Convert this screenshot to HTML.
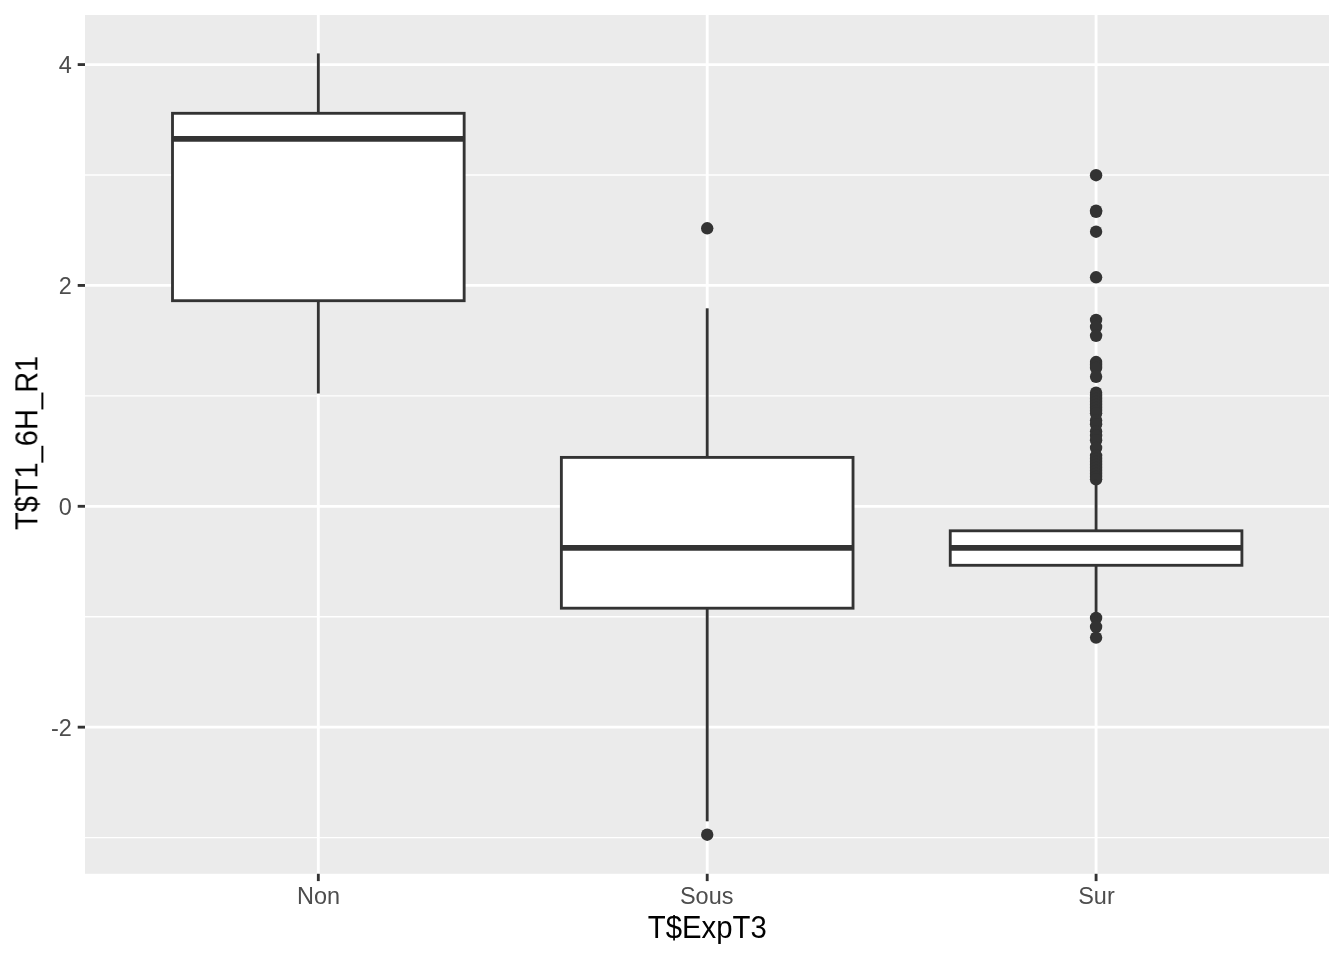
<!DOCTYPE html>
<html><head><meta charset="utf-8"><title>boxplot</title>
<style>
html,body{margin:0;padding:0;background:#fff;}
svg{display:block;font-family:"Liberation Sans",sans-serif;}
.t{opacity:0.999;}
</style></head><body>
<svg width="1344" height="960" viewBox="0 0 1344 960">
<rect width="1344" height="960" fill="#fff"/>
<rect x="85.00" y="15.00" width="1244.00" height="858.80" fill="#EBEBEB"/>
<line x1="85.00" x2="1329.00" y1="175.01" y2="175.01" stroke="#fff" stroke-width="1.42"/>
<line x1="85.00" x2="1329.00" y1="395.87" y2="395.87" stroke="#fff" stroke-width="1.42"/>
<line x1="85.00" x2="1329.00" y1="616.73" y2="616.73" stroke="#fff" stroke-width="1.42"/>
<line x1="85.00" x2="1329.00" y1="837.59" y2="837.59" stroke="#fff" stroke-width="1.42"/>
<line x1="85.00" x2="1329.00" y1="64.58" y2="64.58" stroke="#fff" stroke-width="2.85"/>
<line x1="85.00" x2="1329.00" y1="285.44" y2="285.44" stroke="#fff" stroke-width="2.85"/>
<line x1="85.00" x2="1329.00" y1="506.30" y2="506.30" stroke="#fff" stroke-width="2.85"/>
<line x1="85.00" x2="1329.00" y1="727.16" y2="727.16" stroke="#fff" stroke-width="2.85"/>
<line x1="318.32" x2="318.32" y1="15.00" y2="873.80" stroke="#fff" stroke-width="2.85"/>
<line x1="707.20" x2="707.20" y1="15.00" y2="873.80" stroke="#fff" stroke-width="2.85"/>
<line x1="1096.08" x2="1096.08" y1="15.00" y2="873.80" stroke="#fff" stroke-width="2.85"/>
<circle cx="707.20" cy="228.30" r="6.20" fill="#333333"/>
<circle cx="707.20" cy="834.70" r="6.20" fill="#333333"/>
<circle cx="1096.08" cy="175.20" r="6.20" fill="#333333"/>
<circle cx="1096.08" cy="210.60" r="6.20" fill="#333333"/>
<circle cx="1096.08" cy="211.80" r="6.20" fill="#333333"/>
<circle cx="1096.08" cy="231.70" r="6.20" fill="#333333"/>
<circle cx="1096.08" cy="277.30" r="6.20" fill="#333333"/>
<circle cx="1096.08" cy="319.90" r="6.20" fill="#333333"/>
<circle cx="1096.08" cy="327.00" r="6.20" fill="#333333"/>
<circle cx="1096.08" cy="335.80" r="6.20" fill="#333333"/>
<circle cx="1096.08" cy="362.05" r="6.20" fill="#333333"/>
<circle cx="1096.08" cy="365.00" r="6.20" fill="#333333"/>
<circle cx="1096.08" cy="368.00" r="6.20" fill="#333333"/>
<circle cx="1096.08" cy="376.75" r="6.20" fill="#333333"/>
<circle cx="1096.08" cy="392.75" r="6.20" fill="#333333"/>
<circle cx="1096.08" cy="396.00" r="6.20" fill="#333333"/>
<circle cx="1096.08" cy="399.00" r="6.20" fill="#333333"/>
<circle cx="1096.08" cy="402.00" r="6.20" fill="#333333"/>
<circle cx="1096.08" cy="405.00" r="6.20" fill="#333333"/>
<circle cx="1096.08" cy="408.00" r="6.20" fill="#333333"/>
<circle cx="1096.08" cy="411.00" r="6.20" fill="#333333"/>
<circle cx="1096.08" cy="413.30" r="6.20" fill="#333333"/>
<circle cx="1096.08" cy="420.50" r="6.20" fill="#333333"/>
<circle cx="1096.08" cy="424.20" r="6.20" fill="#333333"/>
<circle cx="1096.08" cy="431.40" r="6.20" fill="#333333"/>
<circle cx="1096.08" cy="435.80" r="6.20" fill="#333333"/>
<circle cx="1096.08" cy="440.15" r="6.20" fill="#333333"/>
<circle cx="1096.08" cy="448.00" r="6.20" fill="#333333"/>
<circle cx="1096.08" cy="455.80" r="6.20" fill="#333333"/>
<circle cx="1096.08" cy="459.00" r="6.20" fill="#333333"/>
<circle cx="1096.08" cy="462.00" r="6.20" fill="#333333"/>
<circle cx="1096.08" cy="465.00" r="6.20" fill="#333333"/>
<circle cx="1096.08" cy="468.00" r="6.20" fill="#333333"/>
<circle cx="1096.08" cy="471.00" r="6.20" fill="#333333"/>
<circle cx="1096.08" cy="474.00" r="6.20" fill="#333333"/>
<circle cx="1096.08" cy="477.00" r="6.20" fill="#333333"/>
<circle cx="1096.08" cy="479.30" r="6.20" fill="#333333"/>
<circle cx="1096.08" cy="618.00" r="6.20" fill="#333333"/>
<circle cx="1096.08" cy="626.90" r="6.20" fill="#333333"/>
<circle cx="1096.08" cy="637.60" r="6.20" fill="#333333"/>
<line x1="318.32" x2="318.32" y1="53.40" y2="113.30" stroke="#333333" stroke-width="2.85"/>
<line x1="318.32" x2="318.32" y1="300.70" y2="393.50" stroke="#333333" stroke-width="2.85"/>
<rect x="172.50" y="113.30" width="291.66" height="187.40" fill="#fff" stroke="#333333" stroke-width="2.85" stroke-linejoin="miter"/>
<line x1="172.50" x2="464.15" y1="138.90" y2="138.90" stroke="#333333" stroke-width="5.7"/>
<line x1="707.20" x2="707.20" y1="308.30" y2="457.40" stroke="#333333" stroke-width="2.85"/>
<line x1="707.20" x2="707.20" y1="608.20" y2="821.30" stroke="#333333" stroke-width="2.85"/>
<rect x="561.37" y="457.40" width="291.66" height="150.80" fill="#fff" stroke="#333333" stroke-width="2.85" stroke-linejoin="miter"/>
<line x1="561.37" x2="853.03" y1="547.90" y2="547.90" stroke="#333333" stroke-width="5.7"/>
<line x1="1096.08" x2="1096.08" y1="479.30" y2="530.80" stroke="#333333" stroke-width="2.85"/>
<line x1="1096.08" x2="1096.08" y1="565.30" y2="618.00" stroke="#333333" stroke-width="2.85"/>
<rect x="950.25" y="530.80" width="291.66" height="34.50" fill="#fff" stroke="#333333" stroke-width="2.85" stroke-linejoin="miter"/>
<line x1="950.25" x2="1241.90" y1="547.90" y2="547.90" stroke="#333333" stroke-width="5.7"/>
<line x1="77.70" x2="85.00" y1="64.58" y2="64.58" stroke="#333333" stroke-width="2.85"/>
<line x1="77.70" x2="85.00" y1="285.44" y2="285.44" stroke="#333333" stroke-width="2.85"/>
<line x1="77.70" x2="85.00" y1="506.30" y2="506.30" stroke="#333333" stroke-width="2.85"/>
<line x1="77.70" x2="85.00" y1="727.16" y2="727.16" stroke="#333333" stroke-width="2.85"/>
<line x1="318.32" x2="318.32" y1="873.80" y2="881.10" stroke="#333333" stroke-width="2.85"/>
<line x1="707.20" x2="707.20" y1="873.80" y2="881.10" stroke="#333333" stroke-width="2.85"/>
<line x1="1096.08" x2="1096.08" y1="873.80" y2="881.10" stroke="#333333" stroke-width="2.85"/>
<g class="t">
<text transform="translate(71.80,73.08) scale(1,1.02)" text-anchor="end" font-size="23.47" fill="#4D4D4D">4</text>
<text transform="translate(71.80,293.94) scale(1,1.02)" text-anchor="end" font-size="23.47" fill="#4D4D4D">2</text>
<text transform="translate(71.80,514.80) scale(1,1.02)" text-anchor="end" font-size="23.47" fill="#4D4D4D">0</text>
<text transform="translate(71.80,735.66) scale(1,1.02)" text-anchor="end" font-size="23.47" fill="#4D4D4D">-2</text>
<text transform="translate(318.57,903.60) scale(1,1.02)" text-anchor="middle" font-size="23.47" fill="#4D4D4D">Non</text>
<text transform="translate(706.70,903.60) scale(1,1.02)" text-anchor="middle" font-size="23.47" fill="#4D4D4D">Sous</text>
<text transform="translate(1096.48,903.60) scale(1,1.02)" text-anchor="middle" font-size="23.47" fill="#4D4D4D">Sur</text>
</g>
<g class="t">
<text transform="translate(707.20,937.60) scale(1,1.060)" text-anchor="middle" font-size="29.33" fill="#000">T$ExpT3</text>
<text transform="translate(37.00,442.90) rotate(-90) scale(0.99,1.060)" text-anchor="middle" font-size="29.33" fill="#000">T$T1_6H_R1</text>
</g>
</svg>
</body></html>
